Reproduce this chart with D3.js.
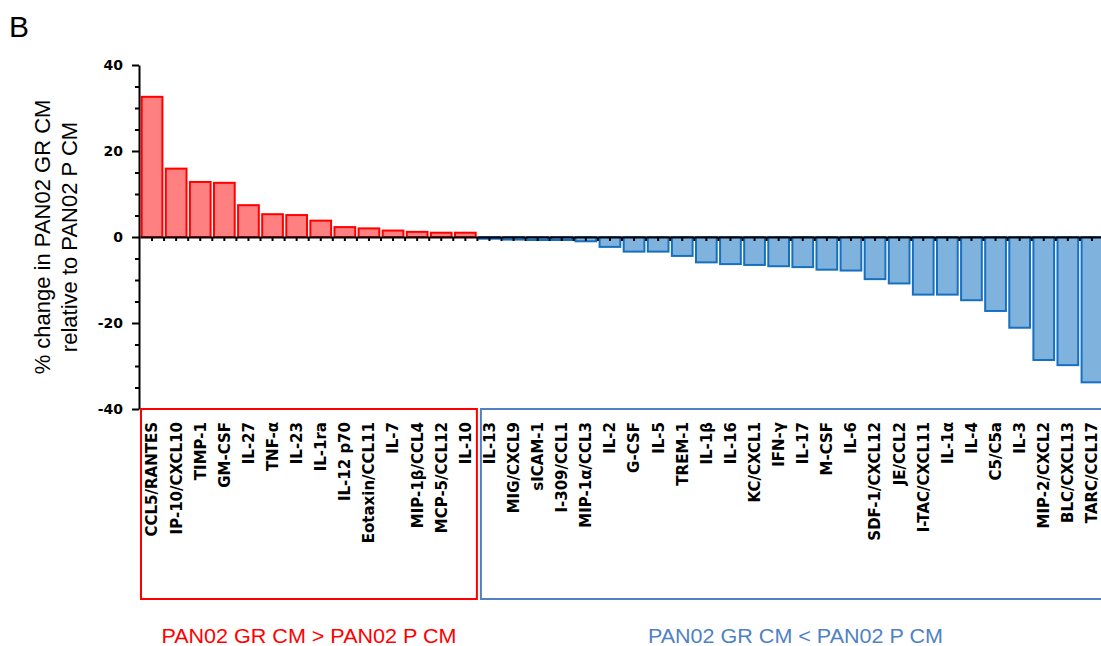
<!DOCTYPE html>
<html>
<head>
<meta charset="utf-8">
<script src="https://cdn.jsdelivr.net/npm/d3@7"></script>
<style>
  body { margin: 0; background: #fff; }
</style>
</head>
<body>
<script>
// cytokines, ordered as in the figure
var upLabels = ["CCL5/RANTES", "IP-10/CXCL10", "TIMP-1", "GM-CSF", "IL-27", "TNF-α", "IL-23",
  "IL-1ra", "IL-12 p70", "Eotaxin/CCL11", "IL-7", "MIP-1β/CCL4", "MCP-5/CCL12", "IL-10"];
var upValues = [32.6, 15.9, 12.8, 12.6, 7.4, 5.3, 5.1, 3.8, 2.3, 2.0, 1.5, 1.2, 1.0, 1.0];

var downLabels = ["IL-13", "MIG/CXCL9", "sICAM-1", "I-309/CCL1", "MIP-1α/CCL3", "IL-2", "G-CSF",
  "IL-5", "TREM-1", "IL-1β", "IL-16", "KC/CXCL1", "IFN-γ", "IL-17", "M-CSF", "IL-6",
  "SDF-1/CXCL12", "JE/CCL2", "I-TAC/CXCL11", "IL-1α", "IL-4", "C5/C5a", "IL-3",
  "MIP-2/CXCL2", "BLC/CXCL13", "TARC/CCL17"];
var downValues = [-0.4, -0.6, -0.7, -0.7, -1.0, -2.3, -3.4, -3.4, -4.4, -5.9, -6.3, -6.5, -6.8,
  -7.0, -7.6, -7.8, -9.8, -10.8, -13.4, -13.4, -14.7, -17.2, -21.1, -28.6, -29.8, -33.8];

var yMajor = [-40, -20, 0, 20, 40];
var yMinor = [-35, -30, -25, -15, -10, -5, 5, 10, 15, 25, 30, 35];

var groupText = ["PAN02 GR CM > PAN02 P CM", "PAN02 GR CM < PAN02 P CM"];

var W = 1101, H = 646;
var plot = {left: 140, right: 1104, top: 65, bottom: 409};

var data = upLabels.map((d, i) => ({name: d, value: upValues[i], up: true}))
  .concat(downLabels.map((d, i) => ({name: d, value: downValues[i], up: false})));

var svg = d3.select("body").append("svg")
  .attr("width", W).attr("height", H)
  .style("font-family", "Liberation Sans, Arial, sans-serif");

var x = d3.scaleBand()
  .domain(data.map(d => d.name))
  .range([plot.left, plot.right])
  .paddingInner(0.14)
  .paddingOuter(0.07);

var y = d3.scaleLinear().domain([-40, 40]).range([plot.bottom, plot.top]);

// bars
svg.append("g").selectAll("rect")
  .data(data)
  .join("rect")
  .attr("x", d => x(d.name))
  .attr("width", x.bandwidth())
  .attr("y", d => y(Math.max(0, d.value)))
  .attr("height", d => Math.abs(y(d.value) - y(0)))
  .attr("fill", d => d.up ? "#ff8080" : "#7fb3dd")
  .attr("stroke", d => d.up ? "#ff0000" : "#1570c0")
  .attr("stroke-width", 2);

// y axis, minor then major ticks
svg.append("g")
  .attr("transform", "translate(" + (plot.left - 1) + ",0)")
  .call(d3.axisLeft(y).tickValues(yMinor).tickSize(4).tickFormat(""))
  .call(g => g.select(".domain").remove())
  .selectAll("line").attr("stroke-width", 2);

var yAxis = svg.append("g")
  .attr("transform", "translate(" + (plot.left - 1) + ",0)")
  .call(d3.axisLeft(y).tickValues(yMajor).tickSize(7).tickSizeOuter(0).tickPadding(9)
    .tickFormat(d => String(d)));
yAxis.select(".domain").attr("stroke-width", 2);
yAxis.selectAll("line").attr("stroke-width", 2);
yAxis.selectAll("text")
  .style("font-family", "DejaVu Sans, Verdana, sans-serif")
  .style("font-weight", "bold")
  .style("font-size", "14px")
  .attr("fill", "#000");

// zero line with ticks at bar centres and band edges
var zeroAxis = svg.append("g")
  .attr("transform", "translate(0," + y(0) + ")")
  .call(d3.axisBottom(x).tickSize(4).tickSizeOuter(0).tickFormat(""));
zeroAxis.select(".domain").attr("stroke-width", 2);
zeroAxis.selectAll("line").attr("stroke-width", 2);
zeroAxis.selectAll(".edge")
  .data(data.slice(1))
  .join("line")
  .attr("x1", d => x(d.name) - x.step() * x.paddingInner() / 2)
  .attr("x2", d => x(d.name) - x.step() * x.paddingInner() / 2)
  .attr("y1", 0).attr("y2", 4)
  .attr("stroke", "#000").attr("stroke-width", 2);

// category labels
svg.append("g").selectAll("text")
  .data(data)
  .join("text")
  .attr("transform", d => "translate(" + (x(d.name) + x.bandwidth() / 2) + ",422) rotate(-90)")
  .attr("text-anchor", "end")
  .attr("dy", "0.36em")
  .style("font-family", "DejaVu Sans, sans-serif")
  .style("font-weight", "bold")
  .style("font-size", "15px")
  .text(d => d.name);

// group boxes
var split = x(downLabels[0]) - x.step() * x.paddingInner() / 2;
var boxes = [
  {x0: plot.left + 1, x1: split - 0.5, color: "#ff0000", text: groupText[0]},
  {x0: split + 3.5, x1: plot.right, color: "#4f81c4", text: groupText[1]}
];
svg.append("g").selectAll("rect")
  .data(boxes)
  .join("rect")
  .attr("x", d => d.x0)
  .attr("y", plot.bottom)
  .attr("width", d => d.x1 - d.x0)
  .attr("height", 190)
  .attr("fill", "none")
  .attr("stroke", d => d.color)
  .attr("stroke-width", 2);

svg.append("g").selectAll("text")
  .data(boxes)
  .join("text")
  .attr("x", d => (d.x0 + d.x1) / 2 + (d.color == "#ff0000" ? 0 : 3))
  .attr("y", 643)
  .attr("text-anchor", "middle")
  .attr("fill", d => d.color)
  .style("font-size", "21px")
  .attr("textLength", 295)
  .attr("lengthAdjust", "spacingAndGlyphs")
  .text(d => d.text);

// y title
var title = svg.append("text")
  .attr("transform", "translate(0," + y(0) + ") rotate(-90)")
  .attr("text-anchor", "middle")
  .style("font-size", "22px");
title.append("tspan").attr("x", 0).attr("y", 50).text("% change in PAN02 GR CM");
title.append("tspan").attr("x", 0).attr("y", 77).text("relative to PAN02 P CM");

// panel letter
svg.append("text")
  .attr("x", 9).attr("y", 37)
  .style("font-size", "30px")
  .text("B");
</script>
</body>
</html>
